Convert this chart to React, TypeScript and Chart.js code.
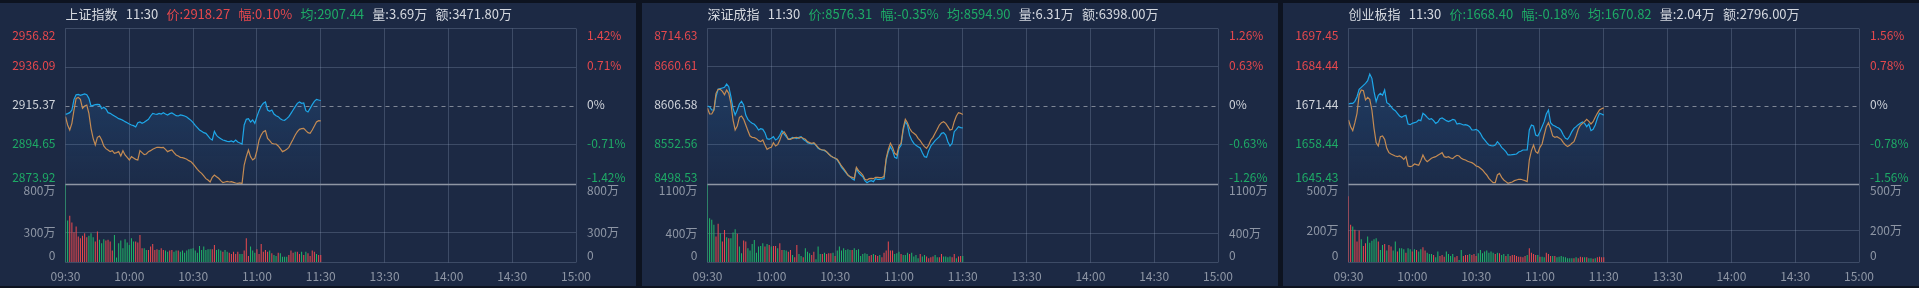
import React, { useEffect, useRef } from "react";
import { Chart, registerables } from "chart.js";

Chart.register(...registerables);

// ---------- shared axis data ----------
const timeTicks = [0, 30, 60, 90, 120, 150, 180, 210, 240];
const timeLabels = ["09:30", "10:00", "10:30", "11:00", "11:30", "13:30", "14:00", "14:30", "15:00"];

// ---------- 上证指数 ----------
const shHeader = ["上证指数", "11:30", "2918.27", "0.10%", "2907.44", "3.69万", "3471.80万"];
const shPriceTicks = [2956.82, 2936.09, 2915.37, 2894.65, 2873.92];
const shPctTicks = ["1.42%", "0.71%", "0%", "-0.71%", "-1.42%"];
const shVolTicks = [800, 300, 0];
const shPrice = [
  2910.94, 2911.3, 2911.83, 2913.24, 2918.91, 2921.39, 2921.57, 2921.04, 2921.39, 2921.75,
  2921.39, 2919.44, 2915.37, 2915.72, 2916.08, 2916.26, 2916.08, 2913.95, 2914.66, 2913.78,
  2911.83, 2911.47, 2910.77, 2910.06, 2909.35, 2908.64, 2908.29, 2907.75, 2907.05, 2906.51,
  2905.81, 2905.28, 2904.92, 2904.21, 2906.51, 2906.87, 2906.16, 2906.69, 2907.58, 2908.29,
  2910.06, 2911.47, 2911.12, 2910.94, 2911.47, 2911.12, 2911.83, 2911.12, 2910.59, 2911.3,
  2911.65, 2910.94, 2910.23, 2910.06, 2910.59, 2910.41, 2910.06, 2909.53, 2908.64, 2907.75,
  2906.51, 2905.1, 2903.86, 2902.62, 2901.91, 2901.2, 2900.85, 2899.43, 2898.01, 2897.31,
  2901.91, 2899.79, 2898.72, 2898.01, 2897.31, 2896.95, 2896.6, 2896.42, 2896.77, 2896.24,
  2897.31, 2896.24, 2895.71, 2895.18, 2905.28, 2908.29, 2908.64, 2906.87, 2907.93, 2906.16,
  2909.7, 2912.89, 2915.37, 2916.79, 2917.5, 2913.24, 2912.54, 2913.24, 2911.12, 2910.23,
  2909.7, 2908.64, 2907.93, 2907.75, 2908.64, 2909.7, 2911.47, 2913.24, 2915.02, 2916.79,
  2917.5, 2916.79, 2916.96, 2912.89, 2912.18, 2914.13, 2916.08, 2917.85, 2918.91, 2918.56,
  2918.27,
];
const shAvg = [
  2909.7, 2905.28, 2902.62, 2906.16, 2913.24, 2919.44, 2919.97, 2918.91, 2914.13, 2915.37,
  2915.9, 2911.47, 2903.5, 2898.19, 2894.65, 2898.72, 2899.43, 2897.31, 2894.12, 2892.7,
  2891.99, 2891.11, 2891.64, 2890.22, 2890.58, 2891.11, 2888.8, 2891.64, 2889.34, 2888.1,
  2886.68, 2888.45, 2887.74, 2887.03, 2886.68, 2891.64, 2890.58, 2889.51, 2889.87, 2891.11,
  2891.64, 2892.35, 2892.88, 2893.41, 2893.41, 2893.23, 2893.41, 2892.35, 2891.11, 2891.64,
  2891.99, 2890.58, 2889.34, 2888.8, 2888.1, 2887.92, 2887.57, 2887.03, 2886.33, 2885.79,
  2884.55, 2883.14, 2881.72, 2880.48, 2879.6, 2878.18, 2876.76, 2876.05, 2874.99, 2877.47,
  2878.71, 2877.82, 2876.94, 2875.7, 2874.64, 2874.99, 2875.35, 2874.99, 2875.17, 2874.81,
  2874.46, 2874.28, 2874.46, 2874.11, 2884.02, 2888.45, 2891.99, 2888.45, 2886.68, 2887.57,
  2891.64, 2897.31, 2899.96, 2901.73, 2902.26, 2898.19, 2896.95, 2895.53, 2895.18, 2895.18,
  2894.12, 2892.7, 2891.11, 2891.64, 2892.35, 2893.41, 2895.53, 2897.66, 2899.96, 2901.73,
  2902.97, 2903.33, 2903.5, 2902.26, 2901.2, 2900.85, 2902.62, 2904.74, 2906.87, 2907.58,
  2907.44,
];
const shVol = [
  800, 426, 474, 405, 305, 364, 261, 244, 268, 295,
  254, 268, 295, 254, 209, 312, 227, 192, 233, 220,
  227, 209, 117, 278, 45, 192, 220, 141, 233, 199,
  175, 244, 209, 209, 199, 278, 141, 141, 124, 124,
  158, 185, 124, 130, 124, 141, 124, 117, 106, 117,
  124, 106, 117, 117, 106, 117, 96, 117, 130, 137,
  141, 117, 96, 165, 124, 158, 124, 130, 130, 130,
  175, 124, 130, 117, 106, 124, 106, 96, 82, 106,
  82, 106, 82, 82, 117, 244, 62, 158, 117, 96,
  130, 82, 185, 106, 124, 106, 117, 89, 72, 62,
  96, 89, 55, 55, 55, 72, 117, 96, 106, 106,
  82, 106, 72, 106, 89, 62, 117, 106, 82, 72,
  72,
];
const shUp = [
  0, 0, 1, 1, 1, 1, 1, 1, 1, 1,
  1, 0, 0, 0, 1, 1, 0, 0, 0, 1,
  1, 1, 1, 0, 0, 0, 0, 0, 0, 0,
  0, 0, 0, 1, 1, 1, 1, 0, 0, 1,
  1, 1, 1, 1, 0, 1, 1, 0, 0, 1,
  1, 0, 0, 1, 0, 0, 0, 0, 0, 0,
  0, 0, 0, 0, 0, 0, 0, 0, 0, 1,
  1, 0, 0, 0, 1, 0, 0, 1, 1, 1,
  1, 1, 0, 0, 1, 1, 1, 0, 0, 0,
  1, 1, 1, 1, 1, 1, 0, 1, 0, 0,
  1, 0, 0, 0, 0, 1, 1, 1, 0, 1,
  1, 0, 1, 0, 1, 1, 1, 1, 0, 1,
  1,
];

// ---------- 深证成指 ----------
const szHeader = ["深证成指", "11:30", "8576.31", "-0.35%", "8594.90", "6.31万", "6398.00万"];
const szPriceTicks = [8714.63, 8660.61, 8606.58, 8552.56, 8498.53];
const szPctTicks = ["1.26%", "0.63%", "0%", "-0.63%", "-1.26%"];
const szVolTicks = [1100, 400, 0];
const szPrice = [
  8606.58, 8605.66, 8601.04, 8601.04, 8619.51, 8629.67, 8630.59, 8631.51, 8632.44, 8637.05,
  8633.36, 8619.51, 8603.35, 8594.11, 8601.04, 8609.35, 8613.04, 8607.97, 8594.11, 8588.11,
  8584.88, 8582.57, 8581.19, 8577.95, 8573.34, 8575.18, 8574.26, 8569.64, 8561.33, 8560.41,
  8561.8, 8564.1, 8559.49, 8561.33, 8565.95, 8572.41, 8567.8, 8564.1, 8560.41, 8561.33,
  8563.18, 8562.26, 8561.33, 8563.18, 8564.1, 8560.41, 8558.56, 8555.79, 8554.87, 8553.95,
  8554.87, 8552.1, 8547.94, 8546.56, 8545.64, 8544.71, 8542.87, 8540.1, 8537.32, 8535.48,
  8534.09, 8531.78, 8527.17, 8521.63, 8517.93, 8514.24, 8511.01, 8508.7, 8505.93, 8504.08,
  8520.24, 8514.24, 8511.01, 8508.7, 8503.16, 8500.39, 8502.24, 8503.16, 8501.77, 8505.93,
  8505.01, 8505.01, 8505.47, 8505.93, 8531.78, 8543.33, 8550.25, 8544.71, 8535.48, 8534.09,
  8547.94, 8552.1, 8573.34, 8584.88, 8580.26, 8566.41, 8559.49, 8554.87, 8552.1, 8550.25,
  8548.41, 8541.94, 8536.4, 8535.48, 8544.71, 8551.18, 8554.87, 8558.56, 8561.33, 8564.1,
  8568.72, 8569.64, 8566.41, 8557.18, 8551.18, 8554.87, 8571.03, 8574.26, 8577.95, 8576.58,
  8576.31,
];
const szAvg = [
  8603.35, 8595.5, 8595.5, 8601.04, 8624.12, 8629.67, 8629.67, 8626.89, 8622.28, 8628.74,
  8624.12, 8610.27, 8587.19, 8573.34, 8578.88, 8590.88, 8592.73, 8588.11, 8580.26, 8572.41,
  8565.03, 8563.18, 8562.72, 8561.33, 8558.56, 8557.18, 8559.49, 8552.56, 8546.56, 8548.41,
  8549.33, 8555.79, 8551.18, 8553.02, 8559.49, 8567.8, 8571.03, 8566.41, 8560.41, 8560.41,
  8561.8, 8562.72, 8563.18, 8561.8, 8563.18, 8561.8, 8560.41, 8557.18, 8555.79, 8554.87,
  8555.79, 8552.56, 8549.33, 8546.56, 8545.64, 8545.64, 8543.33, 8540.1, 8537.32, 8535.48,
  8534.09, 8532.71, 8528.09, 8523.47, 8519.78, 8515.63, 8511.01, 8508.7, 8507.78, 8506.39,
  8521.63, 8517.01, 8514.24, 8511.01, 8505.01, 8504.08, 8505.93, 8506.39, 8505.93, 8507.78,
  8507.78, 8507.31, 8507.78, 8508.7, 8534.09, 8546.56, 8554.87, 8549.33, 8541.02, 8538.71,
  8551.18, 8554.87, 8575.65, 8588.11, 8583.49, 8575.65, 8571.03, 8568.72, 8566.41, 8561.8,
  8558.56, 8553.95, 8550.25, 8547.94, 8552.56, 8559.49, 8563.18, 8568.72, 8574.26, 8580.26,
  8583.49, 8584.88, 8582.57, 8577.95, 8573.34, 8574.26, 8584.88, 8592.73, 8597.35, 8596.42,
  8594.9,
];
const szVol = [
  1100, 618, 595, 524, 359, 538, 406, 288, 453, 349,
  335, 335, 415, 463, 397, 217, 123, 302, 288, 194,
  161, 255, 312, 132, 217, 227, 264, 217, 255, 241,
  217, 227, 227, 194, 264, 170, 170, 161, 146, 170,
  99, 66, 241, 113, 85, 66, 194, 146, 123, 99,
  146, 38, 217, 113, 113, 132, 113, 123, 123, 132,
  85, 161, 217, 161, 194, 170, 179, 170, 170, 194,
  170, 179, 85, 113, 123, 113, 85, 99, 113, 99,
  85, 99, 66, 132, 161, 288, 161, 161, 113, 123,
  146, 113, 99, 99, 132, 113, 132, 76, 99, 52,
  113, 76, 99, 76, 52, 66, 76, 99, 66, 66,
  113, 76, 76, 66, 76, 66, 113, 52, 76, 85,
  85,
];
const szUp = [
  0, 0, 0, 0, 1, 1, 0, 1, 1, 0,
  1, 0, 0, 0, 1, 0, 0, 1, 1, 0,
  0, 0, 0, 0, 0, 0, 0, 1, 0, 1,
  0, 1, 1, 0, 1, 1, 0, 0, 1, 1,
  0, 1, 1, 0, 0, 1, 0, 0, 0, 1,
  1, 0, 0, 0, 1, 0, 1, 1, 1, 0,
  1, 0, 0, 0, 0, 0, 0, 0, 1, 0,
  0, 0, 0, 0, 0, 0, 1, 1, 0, 1,
  1, 0, 1, 1, 1, 1, 1, 1, 0, 0,
  0, 1, 0, 0, 0, 1, 0, 0, 0, 0,
  1, 0, 0, 1, 1, 1, 1, 0, 0, 1,
  1, 0, 0, 0, 0, 1, 1, 0, 1, 1,
  0,
];

// ---------- 创业板指 ----------
const cyHeader = ["创业板指", "11:30", "1668.40", "-0.18%", "1670.82", "2.04万", "2796.00万"];
const cyPriceTicks = [1697.45, 1684.44, 1671.44, 1658.44, 1645.43];
const cyPctTicks = ["1.56%", "0.78%", "0%", "-0.78%", "-1.56%"];
const cyVolTicks = [500, 200, 0];
const cyPrice = [
  1672.11, 1672.33, 1672.33, 1673.0, 1674.55, 1677.0, 1677.66, 1678.33, 1678.99, 1679.88,
  1682.11, 1680.66, 1676.22, 1672.88, 1675.0, 1675.66, 1675.0, 1676.77, 1672.55, 1672.11,
  1671.22, 1670.33, 1669.88, 1669.0, 1668.11, 1667.66, 1668.11, 1668.33, 1665.44, 1665.22,
  1665.66, 1665.88, 1666.11, 1666.77, 1666.55, 1669.0, 1668.44, 1667.66, 1667.0, 1667.22,
  1666.55, 1665.66, 1666.11, 1667.22, 1667.44, 1667.0, 1666.55, 1666.22, 1666.55, 1667.0,
  1666.77, 1665.44, 1665.66, 1665.44, 1665.11, 1665.22, 1665.0, 1664.55, 1663.44, 1663.44,
  1663.66, 1663.22, 1662.33, 1661.0, 1660.11, 1659.22, 1658.44, 1658.22, 1658.11, 1658.44,
  1659.55, 1658.77, 1657.66, 1657.0, 1656.22, 1655.11, 1655.11, 1655.22, 1655.33, 1655.44,
  1656.11, 1656.33, 1656.77, 1656.77, 1656.77, 1663.44, 1665.11, 1664.77, 1661.77, 1661.44,
  1662.89, 1664.55, 1666.22, 1668.77, 1670.11, 1665.88, 1665.11, 1664.77, 1664.33, 1664.0,
  1663.22, 1661.77, 1660.66, 1660.33, 1661.44, 1662.89, 1664.0, 1664.55, 1665.22, 1665.66,
  1666.11, 1665.66, 1664.55, 1665.44, 1663.22, 1663.66, 1665.11, 1667.33, 1669.0, 1668.77,
  1668.4,
];
const cyAvg = [
  1666.77, 1664.55, 1663.22, 1665.88, 1669.0, 1675.11, 1676.77, 1676.55, 1673.44, 1674.33,
  1673.66, 1670.11, 1664.0, 1659.22, 1658.11, 1661.22, 1661.44, 1660.33, 1657.33, 1655.89,
  1655.44, 1655.11, 1654.77, 1654.55, 1654.77, 1654.33, 1653.66, 1654.55, 1651.44, 1651.22,
  1651.44, 1652.11, 1651.89, 1651.66, 1653.22, 1655.11, 1653.66, 1652.89, 1653.44, 1654.0,
  1654.33, 1654.55, 1655.0, 1655.44, 1655.89, 1654.55, 1654.33, 1654.55, 1654.11, 1653.89,
  1654.55, 1655.0, 1654.77, 1654.0, 1653.66, 1653.44, 1653.0, 1652.78, 1652.55, 1652.11,
  1651.44, 1651.22, 1650.66, 1650.11, 1649.22, 1648.44, 1647.33, 1646.55, 1645.89, 1645.89,
  1648.44, 1649.0, 1647.66, 1646.78, 1646.22, 1645.66, 1645.89, 1646.11, 1646.55, 1646.78,
  1647.0, 1647.0, 1646.78, 1646.55, 1646.22, 1653.44, 1656.55, 1658.44, 1656.22, 1655.66,
  1657.66, 1658.77, 1661.77, 1664.55, 1665.88, 1664.0, 1661.44, 1661.0, 1661.22, 1660.77,
  1660.33, 1659.22, 1658.44, 1657.89, 1658.33, 1659.0, 1659.55, 1661.44, 1663.66, 1665.0,
  1665.66, 1666.22, 1667.0, 1666.33, 1665.44, 1666.22, 1667.66, 1669.0, 1670.11, 1670.55,
  1670.82,
];
const cyVol = [
  421, 238, 227, 206, 131, 202, 146, 103, 120, 163,
  124, 137, 146, 152, 131, 77, 109, 116, 73, 109,
  99, 73, 131, 67, 88, 88, 82, 60, 88, 82,
  67, 82, 77, 67, 82, 94, 73, 60, 52, 52,
  45, 30, 67, 39, 45, 34, 67, 52, 39, 52,
  30, 39, 13, 77, 39, 45, 45, 52, 45, 52,
  39, 56, 77, 56, 67, 73, 60, 67, 60, 52,
  60, 56, 45, 52, 39, 52, 39, 45, 45, 39,
  34, 34, 30, 39, 45, 88, 60, 52, 45, 45,
  34, 34, 30, 60, 52, 39, 39, 39, 30, 34,
  39, 34, 30, 24, 24, 24, 24, 30, 24, 34,
  30, 30, 30, 24, 24, 21, 24, 30, 34, 30,
  30,
];
const cyUp = [
  1, 1, 0, 1, 1, 1, 0, 1, 1, 0,
  0, 0, 0, 0, 1, 0, 0, 1, 0, 1,
  1, 0, 0, 1, 0, 0, 0, 1, 0, 0,
  1, 0, 1, 0, 0, 1, 1, 0, 0, 0,
  1, 0, 0, 1, 1, 1, 0, 0, 0, 0,
  1, 1, 0, 0, 1, 1, 1, 0, 1, 1,
  1, 0, 0, 0, 0, 0, 0, 0, 0, 1,
  0, 1, 0, 0, 1, 0, 1, 1, 1, 1,
  1, 1, 1, 1, 0, 1, 1, 1, 1, 0,
  1, 0, 0, 1, 1, 1, 0, 1, 0, 0,
  0, 0, 0, 0, 0, 0, 1, 0, 1, 1,
  1, 0, 1, 0, 0, 1, 0, 1, 1, 1,
  1,
];

// ---------- styles ----------
const RED = "#e5484d";
const GREEN = "#1eaa66";
const BAR_RED = "#ec4a4f";
const BAR_GREEN = "#20b86a";
const BLUE = "#1ea7e8";
const ORANGE = "#c48b53";
const TEXT = "#d5d9e0";
const MID = "#cfd3da";
const AXIS = "#8e96a5";
const GRID = "rgba(160,175,200,0.26)";
const SEP = "#8f96a4";
const DASH = "#7f8796";
const PANEL_BG = "#1c2944";
const GAP_BG = "#0d1320";
const FONT = '"Noto Sans CJK SC", "Noto Sans", sans-serif';

const PANEL_W = 636;
const PANEL_H = 288;

type PanelCfg = {
  header: string[];
  priceTicks: number[];
  pctTicks: string[];
  volTicks: number[];
  price: number[];
  avg: number[];
  vol: number[];
  up: number[];
};

const panels: { left: number; cfg: PanelCfg }[] = [
  { left: 0, cfg: { header: shHeader, priceTicks: shPriceTicks, pctTicks: shPctTicks, volTicks: shVolTicks, price: shPrice, avg: shAvg, vol: shVol, up: shUp } },
  { left: 642, cfg: { header: szHeader, priceTicks: szPriceTicks, pctTicks: szPctTicks, volTicks: szVolTicks, price: szPrice, avg: szAvg, vol: szVol, up: szUp } },
  { left: 1283, cfg: { header: cyHeader, priceTicks: cyPriceTicks, pctTicks: cyPctTicks, volTicks: cyVolTicks, price: cyPrice, avg: cyAvg, vol: cyVol, up: cyUp } },
];

function PanelChart({ cfg }: { cfg: PanelCfg }) {
  const ref = useRef<HTMLCanvasElement>(null);

  useEffect(() => {
    const canvas = ref.current!;
    const pTop = cfg.priceTicks[0];
    const pBot = cfg.priceTicks[cfg.priceTicks.length - 1];
    const preClose = cfg.priceTicks[2];
    const vMax = cfg.volTicks[0];
    // price occupies top 2/3 of the area, volume the bottom 1/3
    const yPmin = pTop - (pTop - pBot) * 1.5;
    const yVmax = vMax * 3;

    const al = (v: number) => Math.floor(v) + 0.5;

    const decor = {
      id: "decor",
      beforeDatasetsDraw(chart: any) {
        const { ctx, chartArea: a, scales } = chart;
        const x = scales.x, yP = scales.yP, yV = scales.yV;
        const top = al(yP.getPixelForValue(pTop));
        const vb = al(yV.getPixelForValue(0));
        const line = (x1: number, y1: number, x2: number, y2: number) => {
          ctx.beginPath();
          ctx.moveTo(x1, y1);
          ctx.lineTo(x2, y2);
          ctx.stroke();
        };
        ctx.save();
        ctx.lineWidth = 1;
        ctx.strokeStyle = GRID;
        for (const t of timeTicks) {
          const px = al(x.getPixelForValue(t));
          line(px, top, px, vb);
        }
        [0, 1, 3].forEach((i) => {
          const py = al(yP.getPixelForValue(cfg.priceTicks[i]));
          line(a.left, py, a.right, py);
        });
        [1, 2].forEach((i) => {
          const py = al(yV.getPixelForValue(cfg.volTicks[i]));
          line(a.left, py, a.right, py);
        });
        ctx.strokeStyle = DASH;
        ctx.setLineDash([4, 4]);
        const mid = al(yP.getPixelForValue(preClose));
        line(a.left, mid, a.right, mid);
        ctx.setLineDash([]);
        ctx.restore();
      },
      afterDatasetsDraw(chart: any) {
        const { ctx, chartArea: a, scales } = chart;
        const yP = scales.yP;
        ctx.save();
        ctx.strokeStyle = SEP;
        ctx.lineWidth = 1.5;
        const py = Math.floor(yP.getPixelForValue(pBot)) + 0.5;
        ctx.beginPath();
        ctx.moveTo(a.left, py);
        ctx.lineTo(a.right, py);
        ctx.stroke();
        ctx.restore();
      },
      afterDraw(chart: any) {
        const { ctx, chartArea: a, scales } = chart;
        const x = scales.x, yP = scales.yP, yV = scales.yV;
        ctx.save();
        ctx.font = `12px ${FONT}`;
        ctx.textBaseline = "middle";
        const leftX = a.left - 10;
        const rightX = a.right + 11;
        const n = cfg.priceTicks.length;
        cfg.priceTicks.forEach((v, i) => {
          let y = yP.getPixelForValue(v);
          if (i === 0) y += 7;
          else if (i === n - 1) y -= 7;
          else y -= 1.5;
          const color = i < 2 ? RED : i === 2 ? MID : GREEN;
          ctx.fillStyle = color;
          ctx.textAlign = "right";
          ctx.fillText(v.toFixed(2), leftX, y);
          ctx.textAlign = "left";
          ctx.fillText(cfg.pctTicks[i], rightX, y);
        });
        cfg.volTicks.forEach((v, i) => {
          let y = yV.getPixelForValue(v);
          if (i === 0) y += 6.5;
          else if (i === cfg.volTicks.length - 1) y -= 7;
          const label = v === 0 ? "0" : `${v}万`;
          ctx.fillStyle = AXIS;
          ctx.textAlign = "right";
          ctx.fillText(label, leftX, y);
          ctx.textAlign = "left";
          ctx.fillText(label, rightX, y);
        });
        ctx.textAlign = "center";
        ctx.fillStyle = AXIS;
        timeTicks.forEach((t, i) => {
          ctx.fillText(timeLabels[i], x.getPixelForValue(t), 276.5);
        });

        // header
        const h = cfg.header;
        const lastP = parseFloat(h[2]);
        const avgP = parseFloat(h[4]);
        const pColor = lastP >= preClose ? RED : GREEN;
        const aColor = avgP >= preClose ? RED : GREEN;
        const items: [string, string][] = [
          [h[0], TEXT],
          [h[1], TEXT],
          ["价:" + h[2], pColor],
          ["幅:" + h[3], pColor],
          ["均:" + h[4], aColor],
          ["量:" + h[5], TEXT],
          ["额:" + h[6], TEXT],
        ];
        ctx.font = `13px ${FONT}`;
        ctx.textAlign = "left";
        let cx = a.left;
        for (const [s, c] of items) {
          ctx.fillStyle = c;
          ctx.fillText(s, cx, 14);
          cx += ctx.measureText(s).width + 8.3;
        }
        ctx.restore();
      },
    };

    const idx = cfg.price.map((_, i) => i);
    const chart = new Chart(canvas, {
      type: "bar",
      data: {
        datasets: [
          {
            type: "line",
            data: cfg.avg.map((v, i) => ({ x: idx[i], y: v })),
            xAxisID: "x",
            yAxisID: "yP",
            borderColor: ORANGE,
            borderWidth: 1.2,
            pointRadius: 0,
            fill: false,
            tension: 0,
            order: 0,
          },
          {
            type: "line",
            data: cfg.price.map((v, i) => ({ x: idx[i], y: v })),
            xAxisID: "x",
            yAxisID: "yP",
            borderColor: BLUE,
            borderWidth: 1.2,
            pointRadius: 0,
            tension: 0,
            fill: { value: pBot },
            backgroundColor: (c: any) => {
              const ch = c.chart;
              if (!ch.chartArea) return "rgba(0,0,0,0)";
              const s = ch.scales.yP;
              const g = ch.ctx.createLinearGradient(0, s.getPixelForValue(pTop), 0, s.getPixelForValue(pBot));
              g.addColorStop(0, "rgba(45,140,230,0.26)");
              g.addColorStop(1, "rgba(45,140,230,0.03)");
              return g;
            },
            order: 1,
          },
          {
            type: "bar",
            data: cfg.vol.map((v, i) => ({ x: idx[i], y: v })),
            xAxisID: "x",
            yAxisID: "yV",
            backgroundColor: cfg.up.map((u) => (u ? BAR_RED : BAR_GREEN)),
            barThickness: 1,
            borderWidth: 0,
            inflateAmount: 0,
            order: 2,
          },
        ] as any,
      },
      options: {
        responsive: false,
        maintainAspectRatio: false,
        animation: false,
        devicePixelRatio: 1,
        layout: { padding: { left: 65.5, right: 60, top: 28, bottom: 26 } },
        plugins: { legend: { display: false }, tooltip: { enabled: false } },
        scales: {
          x: { type: "linear", min: 0, max: 240, offset: false, display: false },
          yP: { type: "linear", min: yPmin, max: pTop, display: false },
          yV: { type: "linear", min: 0, max: yVmax, display: false },
        },
      } as any,
      plugins: [decor],
    });
    return () => chart.destroy();
  }, [cfg]);

  return (
    <canvas
      ref={ref}
      width={PANEL_W}
      height={PANEL_H}
      style={{ position: "absolute", left: 0, top: 0, width: PANEL_W, height: PANEL_H }}
    />
  );
}

export default function App() {
  return (
    <div
      style={{
        position: "fixed",
        left: 0,
        top: 0,
        width: 1919,
        height: 288,
        background: GAP_BG,
        overflow: "hidden",
      }}
    >
      {panels.map((p, i) => (
        <div
          key={i}
          style={{ position: "absolute", left: p.left, top: 0, width: PANEL_W, height: PANEL_H }}
        >
          <div
            style={{ position: "absolute", left: 0, top: 3, width: PANEL_W, height: 283, background: PANEL_BG }}
          />
          <PanelChart cfg={p.cfg} />
        </div>
      ))}
    </div>
  );
}
